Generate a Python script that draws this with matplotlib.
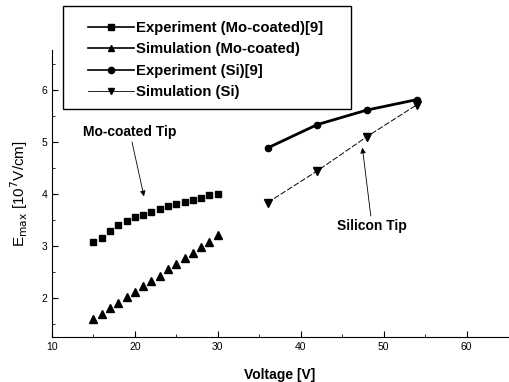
import matplotlib
matplotlib.use("Agg")
import matplotlib.pyplot as plt
from matplotlib.lines import Line2D
from matplotlib.patches import Rectangle

plt.rcParams['font.family'] = ['Liberation Sans', 'DejaVu Sans']

volt_mo = [15, 16, 17, 18, 19, 20, 21, 22, 23, 24, 25, 26, 27, 28, 29, 30]
exp_mo = [3.08, 3.15, 3.28, 3.40, 3.48, 3.55, 3.60, 3.65, 3.70, 3.76, 3.80, 3.85, 3.89, 3.92, 3.97, 4.00]
sim_mo = [1.60, 1.70, 1.80, 1.90, 2.02, 2.12, 2.22, 2.33, 2.43, 2.55, 2.65, 2.77, 2.87, 2.98, 3.08, 3.20]
volt_si = [36, 42, 48, 54]
exp_si = [4.88, 5.33, 5.61, 5.81]
sim_si = [3.83, 4.44, 5.10, 5.71]

fig = plt.figure(figsize=(5.09, 3.82), dpi=100)
ax = fig.add_axes([0.102, 0.118, 0.896, 0.752])

ax.plot(volt_mo, exp_mo, ls='none', marker='s', ms=4.2, color='black')
ax.plot(volt_mo, sim_mo, ls='none', marker='^', ms=5.2, color='black')
ax.plot(volt_si, exp_si, ls='-', lw=2, marker='o', ms=4.5, color='black')
ax.plot(volt_si, sim_si, ls='--', lw=0.7, dashes=(6, 2), marker='v', ms=5.2, color='black')

ax.set_xlim(10, 65)
ax.set_ylim(1.25, 6.77)
ax.set_xticks([10, 20, 30, 40, 50, 60])
ax.set_yticks([2, 3, 4, 5, 6])
ax.set_xticks([15, 25, 35, 45, 55], minor=True)
ax.set_yticks([1.5, 2.5, 3.5, 4.5, 5.5, 6.5], minor=True)
ax.tick_params(direction='in', labelsize=7.5, length=4)
ax.tick_params(which='minor', direction='in', length=2)
for s in ['top', 'right']:
    ax.spines[s].set_visible(False)

ax.set_xlabel('Voltage [V]', fontsize=10, fontweight='bold', labelpad=12)
ax.set_ylabel(r'E$_{\rm max}$ [10$^{7}$V/cm]', fontsize=11, labelpad=8)

ax.annotate('Mo-coated Tip', xy=(21.1, 3.95), xytext=(19.4, 5.05),
            fontsize=10, fontweight='bold', ha='center', va='bottom',
            arrowprops=dict(arrowstyle='-|>', color='black', lw=0.6, mutation_scale=8,
                            shrinkA=0, shrinkB=0))
ax.annotate('Silicon Tip', xy=(47.4, 4.94), xytext=(48.6, 3.52),
            fontsize=10, fontweight='bold', ha='center', va='top',
            arrowprops=dict(arrowstyle='-|>', color='black', lw=0.6, mutation_scale=8,
                            shrinkA=0, shrinkB=2))

# legend box
fig.patches.append(Rectangle((63 / 509, 1 - 109 / 382), (351 - 63) / 509, (109 - 6) / 382,
                             transform=fig.transFigure, fill=False,
                             edgecolor='black', linewidth=1.0, zorder=5))

handles = [
    Line2D([], [], color='black', lw=1.2, marker='s', ms=4.5),
    Line2D([], [], color='black', lw=1.2, marker='^', ms=4.5),
    Line2D([], [], color='black', lw=1.2, marker='o', ms=4.5),
    Line2D([], [], color='black', lw=0.6, marker='v', ms=4.5),
]
labels = ['Experiment (Mo-coated)[9]', 'Simulation (Mo-coated)',
          'Experiment (Si)[9]', 'Simulation (Si)']
leg = fig.legend(handles, labels, loc='upper left',
                 bbox_to_anchor=(88 / 509, 1 - 21 / 382),
                 bbox_transform=fig.transFigure,
                 frameon=False,
                 prop=dict(weight='bold', size=10.7),
                 handlelength=3.1, handletextpad=0.1, labelspacing=0.5,
                 borderpad=0, borderaxespad=0)

fig.savefig('out.png', dpi=100)
